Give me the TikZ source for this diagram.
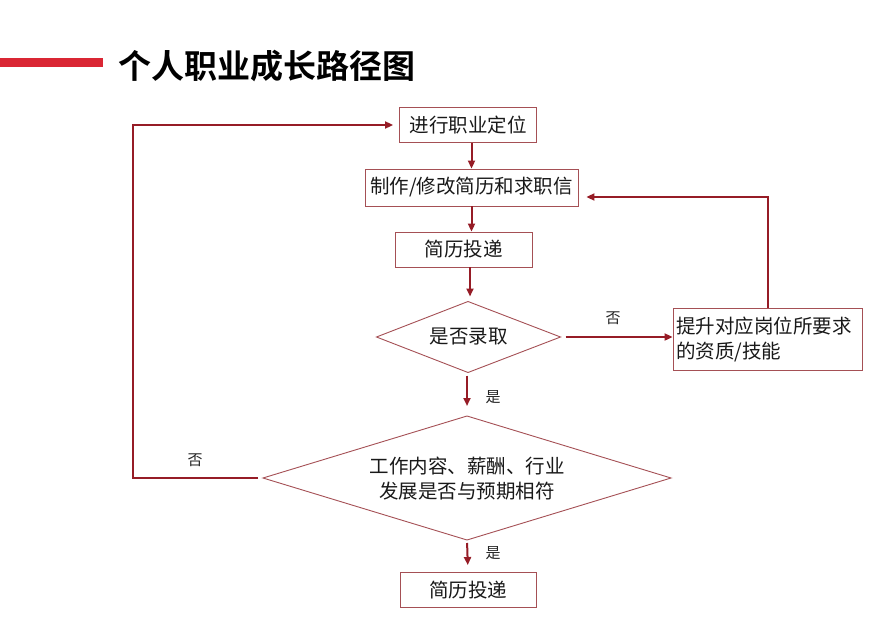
\documentclass[tikz,border=0pt]{standalone}
\usepackage{fontspec}
\newfontfamily\cjk{Noto Sans CJK SC}
\newfontfamily\cjkbold{Noto Sans CJK SC Bold}
\usetikzlibrary{arrows.meta,calc}
\definecolor{barred}{RGB}{218,38,52}
\definecolor{arrred}{RGB}{150,28,38}
\definecolor{boxline}{RGB}{165,80,85}
\tikzset{
  stepbox/.style={draw=boxline, line width=0.9pt, fill=white, font=\cjk\fontsize{19.5}{25}\selectfont, inner sep=0pt, text=black!90},
  decidetext/.style={inner sep=0pt, font=\cjk\fontsize{19.5}{25}\selectfont, align=center, text=black!90},
  decideline/.style={draw=boxline, line width=0.9pt},
  arr/.style={draw=arrred, line width=2pt, -{Triangle[length=8pt,width=7pt]}},
  lbl/.style={font=\cjk\fontsize{15}{18}\selectfont, text=black!85}
}
\begin{document}
\begin{tikzpicture}[x=1pt,y=-1pt]
\useasboundingbox[fill=white] (0,0) rectangle (873,642);
% header
\fill[barred] (0,58.5) rectangle (103,67.5);
\node[anchor=west, font=\cjkbold\fontsize{33}{36}\selectfont, inner sep=0pt] (title) at (118,66) {个人职业成长路径图};
% boxes
\node[stepbox, minimum width=137pt, minimum height=35pt] (b1) at (468,125) {进行职业定位};
\node[stepbox, minimum width=213pt, minimum height=37pt] (b2) at (471.5,187.5) {制作/修改简历和求职信};
\node[stepbox, minimum width=137pt, minimum height=35pt] (b3) at (463.5,249.5) {简历投递};
\node[stepbox, minimum width=189pt, minimum height=62pt, text width=183pt, align=left] (r) at (767.5,339) {提升对应岗位所要求\\的资质/技能};
\node[stepbox, minimum width=136pt, minimum height=35pt] (b4) at (468,590) {简历投递};
% diamond 1
\coordinate (d1n) at (468,301.5);
\coordinate (d1e) at (560.5,337);
\coordinate (d1s) at (468,372.5);
\coordinate (d1w) at (376.5,337);
\draw[decideline] (d1n) -- (d1e) -- (d1s) -- (d1w) -- cycle;
\node[decidetext] (d1) at (468.5,337) {是否录取};
% diamond 2
\coordinate (d2n) at (467,416);
\coordinate (d2e) at (671,478);
\coordinate (d2s) at (467,540);
\coordinate (d2w) at (263,478);
\draw[decideline] (d2n) -- (d2e) -- (d2s) -- (d2w) -- cycle;
\node[decidetext] (d2) at (467,479) {工作内容、薪酬、行业\\发展是否与预期相符};
\coordinate (L) at (133,125);
% connectors
\draw[arr] (b1.south -| b2.center) -- (b2.north);
\draw[arr] (b2.south) -- (b3.north -| b2.center);
\draw[arr, shorten >=5pt] (b3.south -| 470,0) -- (d1n -| 470,0);
\draw[arr, shorten <=5pt] (d1e) -- (r.west |- d1e);
\node[lbl] (n1) at (613,318) {否};
\draw[arr, shorten <=3pt, shorten >=10pt] (d1s -| d2n) -- (d2n);
\node[lbl] (y1) at (493,397) {是};
\draw[arr, shorten >=8pt] (r.north) |- ([yshift=-9.5pt]b2.east);
\draw[arr, shorten >=6pt] ([xshift=-5pt]d2w) -- (d2w -| L) -- (L) -- (b1.west);
\node[lbl] (n2) at (195,460) {否};
\draw[arr, shorten <=3pt, shorten >=7pt] (d2s) -- (b4.north);
\node[lbl] (y2) at (493,553) {是};
\end{tikzpicture}
\end{document}
